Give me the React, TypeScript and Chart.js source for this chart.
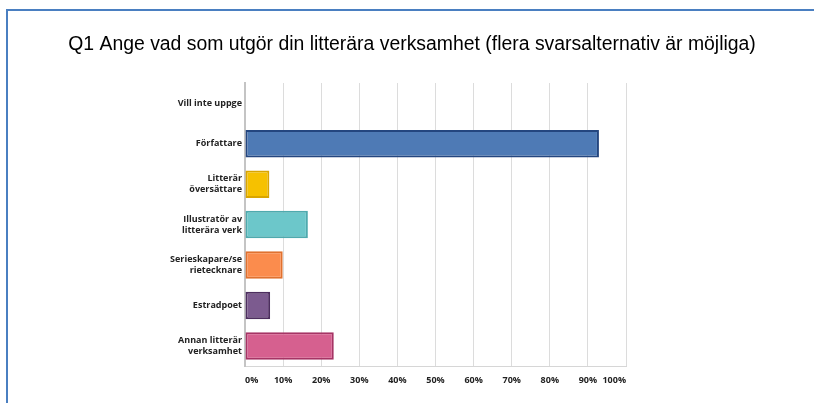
import React, { useEffect, useRef } from "react";
import { Chart, registerables } from "chart.js";

Chart.register(...registerables);

const titleText = "Q1 Ange vad som utgör din litterära verksamhet (flera svarsalternativ är möjliga)";
const categories: (string | string[])[] = [
  "Vill inte uppge",
  "Författare",
  ["Litterär", "översättare"],
  ["Illustratör av", "litterära verk"],
  ["Serieskapare/se", "rietecknare"],
  "Estradpoet",
  ["Annan litterär", "verksamhet"],
];
const values = [0, 92.9, 6.4, 16.5, 9.9, 6.6, 23.3];
const fillColors = ["#4e7ab5", "#4e7ab5", "#f6c100", "#6cc7ca", "#fb8c4d", "#7c5b8f", "#d6608f"];
const borderColors = ["#24467f", "#24467f", "#d9a500", "#4eaaae", "#e0712f", "#4d2e5f", "#a63465"];
const xTicks = [0, 10, 20, 30, 40, 50, 60, 70, 80, 90, 100];

const framePlugin = {
  id: "frame",
  beforeDraw(chart: any) {
    const { ctx, width, height } = chart;
    ctx.save();
    ctx.fillStyle = "#ffffff";
    ctx.fillRect(0, 0, width, height);
    ctx.strokeStyle = "#4a7fc1";
    ctx.lineWidth = 2;
    ctx.beginPath();
    ctx.moveTo(7, height);
    ctx.lineTo(7, 10);
    ctx.lineTo(width, 10);
    ctx.stroke();
    ctx.fillStyle = "#000000";
    ctx.font = "19.4px 'Liberation Sans'";
    ctx.textAlign = "center";
    ctx.textBaseline = "middle";
    ctx.fillText(titleText, 412, 45);
    ctx.restore();
  },
};

export default function App() {
  const ref = useRef<HTMLCanvasElement>(null);
  useEffect(() => {
    if (!ref.current) return;
    const chart = new Chart(ref.current, {
      type: "bar",
      data: {
        labels: categories,
        datasets: [
          {
            data: values,
            backgroundColor: fillColors,
            borderColor: borderColors,
            borderWidth: 2,
            borderSkipped: false,
            barPercentage: 0.68,
            categoryPercentage: 1,
          },
        ],
      },
      options: {
        indexAxis: "y",
        animation: false,
        responsive: false,
        layout: { padding: { left: 0, right: 188, top: 83, bottom: 8 } },
        plugins: {
          legend: { display: false },
          tooltip: { enabled: false },
          title: { display: false },
        },
        scales: {
          x: {
            min: 0,
            max: 100,
            afterBuildTicks(axis: any) {
              axis.ticks = xTicks.map((v) => ({ value: v }));
            },
            ticks: {
              callback: (v: any) => v + "%",
              color: "#222222",
              font: { family: "Open Sans", size: 9, weight: "bold" },
              padding: 9,
              maxRotation: 0,
              align: "inner",
            },
            grid: { color: "#dcdcdc", lineWidth: 1, drawTicks: false },
            border: { color: "#d6d6d6", width: 1 },
          },
          y: {
            afterFit(axis: any) {
              axis.width = 245;
            },
            ticks: {
              color: "#222222",
              font: { family: "Open Sans", size: 9, weight: "bold", lineHeight: 1.25 },
              padding: 3,
            },
            grid: { display: false, drawTicks: false },
            border: { color: "#c4c4c4", width: 2 },
          },
        },
      },
      plugins: [framePlugin],
    });
    return () => chart.destroy();
  }, []);
  return (
    <div style={{ position: "fixed", left: 0, top: 0, width: 814, height: 403, background: "#fff" }}>
      <canvas ref={ref} width={814} height={403} style={{ display: "block" }} />
    </div>
  );
}
